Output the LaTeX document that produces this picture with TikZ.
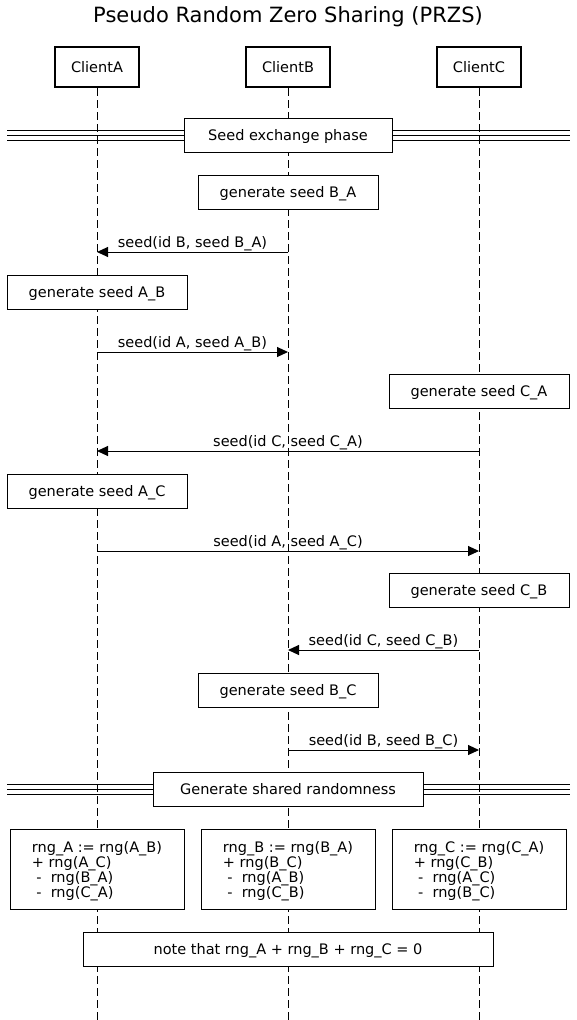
\documentclass[tikz,border=0pt]{standalone}
\usepackage{fontspec}
\setmainfont{DejaVu Sans}
\usetikzlibrary{arrows.meta}
\begin{document}
\begin{tikzpicture}[x=1pt,y=-1pt,
  every node/.style={font=\fontsize{14.5}{15}\selectfont, inner sep=0pt},
  oneline/.style={text height=13pt, text depth=2.5pt},
  actor/.style={oneline, draw, line width=2pt, fill=white, minimum width=84pt, minimum height=40pt},
  act/.style={oneline, draw, line width=0.9pt, fill=white, minimum width=180pt, minimum height=34pt},
  sepbox/.style={oneline, draw, line width=0.9pt, fill=white, minimum height=34pt},
  calc/.style={draw, line width=0.9pt, fill=white, minimum width=174pt, minimum height=80pt, align=left},
  lifeline/.style={line width=1pt, dash pattern=on 8pt off 4pt},
  sepline/.style={line width=1pt},
  msg/.style={line width=1pt, -{Triangle[length=11pt,width=10pt]}},
  lbl/.style={oneline, above=2pt}
]
\useasboundingbox (0,0) rectangle (577,1020);
% title
\node[font=\fontsize{21}{24}\selectfont] (title) at (288,17) {Pseudo Random Zero Sharing (PRZS)};
% actors
\node[actor] (A) at (97,67) {ClientA};
\node[actor] (B) at (288,67) {ClientB};
\node[actor] (C) at (479,67) {ClientC};
\coordinate (Aend) at (97,1020);
\coordinate (Bend) at (288,1020);
\coordinate (Cend) at (479,1020);
\draw[lifeline] (A.south) -- (Aend);
\draw[lifeline] (B.south) -- (Bend);
\draw[lifeline] (C.south) -- (Cend);
% separator 1
\coordinate (s1l) at (7,135);
\coordinate (s1r) at (570,135);
\foreach \d in {-5,0,5} {\draw[sepline] ([yshift=\d pt]s1l) -- ([yshift=\d pt]s1r);}
\node[sepbox, minimum width=208pt] (sep1) at (288,135) {Seed exchange phase};
% seed exchange
\node[act] (gBA) at (288,192) {generate seed B\_A};
\coordinate (m1b) at (288,252); \coordinate (m1a) at (97,252);
\draw[msg] (m1b) -- node[lbl] (l1) {seed(id B, seed B\_A)} (m1a);
\node[act] (gAB) at (97,292) {generate seed A\_B};
\coordinate (m2a) at (97,352); \coordinate (m2b) at (288,352);
\draw[msg] (m2a) -- node[lbl] (l2) {seed(id A, seed A\_B)} (m2b);
\node[act] (gCA) at (479,391) {generate seed C\_A};
\coordinate (m3c) at (479,451); \coordinate (m3a) at (97,451);
\draw[msg] (m3c) -- node[lbl] (l3) {seed(id C, seed C\_A)} (m3a);
\node[act] (gAC) at (97,491) {generate seed A\_C};
\coordinate (m4a) at (97,551); \coordinate (m4c) at (479,551);
\draw[msg] (m4a) -- node[lbl] (l4) {seed(id A, seed A\_C)} (m4c);
\node[act] (gCB) at (479,590) {generate seed C\_B};
\coordinate (m5c) at (479,650); \coordinate (m5b) at (288,650);
\draw[msg] (m5c) -- node[lbl] (l5) {seed(id C, seed C\_B)} (m5b);
\node[act] (gBC) at (288,690) {generate seed B\_C};
\coordinate (m6b) at (288,750); \coordinate (m6c) at (479,750);
\draw[msg] (m6b) -- node[lbl] (l6) {seed(id B, seed B\_C)} (m6c);
% separator 2
\coordinate (s2l) at (7,789);
\coordinate (s2r) at (570,789);
\foreach \d in {-5,0,5} {\draw[sepline] ([yshift=\d pt]s2l) -- ([yshift=\d pt]s2r);}
\node[sepbox, minimum width=270pt] (sep2) at (288,789) {Generate shared randomness};
% calculations
\node[calc] (rA) at (97,869) {\rule{0pt}{15pt}rng\_A := rng(A\_B)\\+ rng(A\_C)\\\hspace*{0.3em}-\ \ rng(B\_A)\\\hspace*{0.3em}-\ \ rng(C\_A)};
\node[calc] (rB) at (288,869) {\rule{0pt}{15pt}rng\_B := rng(B\_A)\\+ rng(B\_C)\\\hspace*{0.3em}-\ \ rng(A\_B)\\\hspace*{0.3em}-\ \ rng(C\_B)};
\node[calc] (rC) at (479,869) {\rule{0pt}{15pt}rng\_C := rng(C\_A)\\+ rng(C\_B)\\\hspace*{0.3em}-\ \ rng(A\_C)\\\hspace*{0.3em}-\ \ rng(B\_C)};
\node[act, minimum width=410pt] (note) at (288,949) {note that rng\_A + rng\_B + rng\_C = 0};
\end{tikzpicture}
\end{document}
